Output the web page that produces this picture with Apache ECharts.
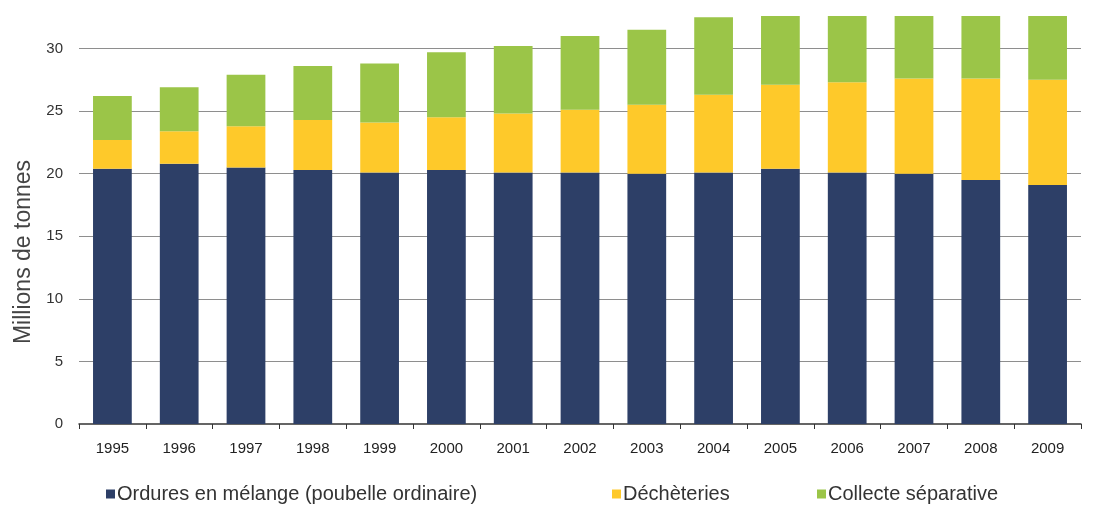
<!DOCTYPE html>
<html>
<head>
<meta charset="utf-8">
<script src="https://cdn.jsdelivr.net/npm/echarts@6/dist/echarts.min.js"></script>
<style>
  html, body { margin: 0; padding: 0; background: #fff; }
  #chart { width: 1103px; height: 512px; }
</style>
</head>
<body>
<div id="chart"></div>
<script>
// annees
const years = ['1995', '1996', '1997', '1998', '1999', '2000', '2001', '2002',
  '2003', '2004', '2005', '2006', '2007', '2008', '2009']
// millions de tonnes
const ordures = [20.4, 20.8, 20.5, 20.3, 20.1, 20.3, 20.1, 20.1, 20.0, 20.1, 20.4, 20.1, 20.0, 19.5, 19.1]
const decheteries = [2.3, 2.6, 3.3, 4.0, 4.0, 4.2, 4.7, 5.0, 5.5, 6.2, 6.7, 7.2, 7.6, 8.1, 8.4]
// 2005-2009 : haut des barres coupe dans l'image d'origine
const collecte = [3.5, 3.5, 4.1, 4.3, 4.7, 5.2, 5.4, 5.9, 6.0, 6.2, 6.2, 6.2, 6.3, 6.4, 6.5]
const yTicks = { min: 0, max: 32.6, interval: 5 }

const names = ['Ordures en mélange (poubelle ordinaire)', 'Déchèteries', 'Collecte séparative']
const colors = ['#2D3F67', '#FEC92A', '#9BC548']
const font = 'Liberation Sans, Arial, sans-serif'

const chart = echarts.init(document.getElementById('chart'))

function legendAt (name, left) {
  return {
    data: [name],
    left: left,
    top: 484,
    icon: 'rect',
    itemWidth: 9,
    itemHeight: 9,
    padding: 0,
    textStyle: { fontFamily: font, fontSize: 20, color: '#333', padding: [0, 0, 0, -3] }
  }
}

chart.setOption({
  animation: false,
  color: colors,
  grid: {
    left: 79,
    right: 22,
    top: 16,
    bottom: 88
  },
  legend: [
    legendAt(names[0], 106),
    legendAt(names[1], 612),
    legendAt(names[2], 817)
  ],
  xAxis: {
    type: 'category',
    data: years,
    axisLine: { lineStyle: { color: '#333', width: 1.5 } },
    axisTick: { show: true, length: 5, lineStyle: { color: '#333' } },
    axisLabel: { fontFamily: font, fontSize: 15, color: '#222', margin: 17 }
  },
  yAxis: {
    type: 'value',
    min: yTicks.min,
    max: yTicks.max,
    interval: yTicks.interval,
    name: 'Millions de tonnes',
    nameLocation: 'middle',
    nameGap: 43,
    nameTextStyle: { fontFamily: font, fontSize: 23, color: '#444', padding: [0, 64, 0, 0] },
    axisLine: { show: false },
    axisTick: { show: false },
    axisLabel: { fontFamily: font, fontSize: 15, color: '#333', margin: 16, showMaxLabel: false },
    splitLine: { showMaxLine: false, showMinLine: false, lineStyle: { color: '#8E8E8E', width: 1.2 } }
  },
  series: [
    { name: names[0], type: 'bar', stack: 'total', barWidth: '58%', data: ordures },
    { name: names[1], type: 'bar', stack: 'total', barWidth: '58%', data: decheteries },
    { name: names[2], type: 'bar', stack: 'total', barWidth: '58%', data: collecte }
  ]
})
</script>
</body>
</html>
